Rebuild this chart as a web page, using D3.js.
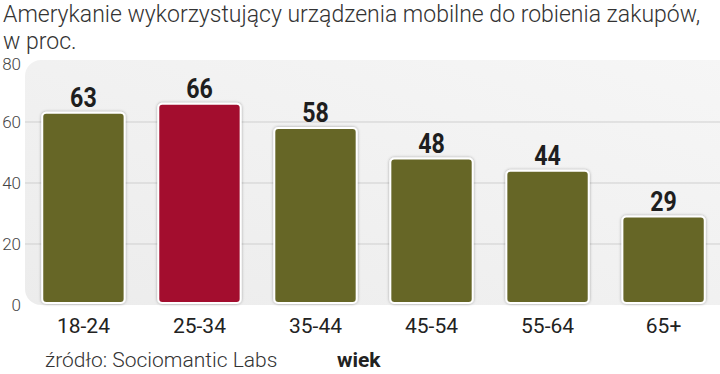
<!DOCTYPE html>
<html>
<head>
<meta charset="utf-8">
<script src="https://cdn.jsdelivr.net/npm/d3@7"></script>
<style>
  body { margin: 0; background: #fff; }
  svg { display: block; }
</style>
</head>
<body>
<svg id="chart"></svg>
<script>
const width = 720;
const height = 374;

// Data
const ageGroups = ["18-24", "25-34", "35-44", "45-54", "55-64", "65+"];
const shares = [63, 66, 58, 48, 44, 29];
const highlighted = ["25-34"];
const yTicks = [0, 20, 40, 60, 80];
const titleLines = ["Amerykanie wykorzystujący urządzenia mobilne do robienia zakupów,", "w proc."];
const sourceText = "źródło: Sociomantic Labs";
const axisName = "wiek";

const svg = d3.select("#chart")
    .attr("width", width)
    .attr("height", height);

const defs = svg.append("defs");
const shadow = defs.append("filter").attr("id", "shadow")
    .attr("x", "-10%").attr("y", "-10%").attr("width", "120%").attr("height", "120%");
shadow.append("feDropShadow")
    .attr("dx", 0).attr("dy", 0).attr("stdDeviation", 1.5)
    .attr("flood-color", "#000").attr("flood-opacity", 0.35);

// Panel fill: light grey, a bit lighter toward the top right
const grad = defs.append("linearGradient").attr("id", "panel")
    .attr("x1", 0).attr("y1", 1).attr("x2", 1).attr("y2", 0);
grad.append("stop").attr("offset", 0).attr("stop-color", "#ececec");
grad.append("stop").attr("offset", 1).attr("stop-color", "#f6f6f6");

// Scales
const x = d3.scaleBand()
    .domain(ageGroups)
    .range([26, 721])
    .paddingInner(0.29)
    .paddingOuter(0.14);

const y = d3.scaleLinear()
    .domain([0, 80])
    .range([305, 61]);

// Light panel behind the plot
svg.append("rect")
    .attr("x", 25)
    .attr("y", 60)
    .attr("width", 710)
    .attr("height", 245)
    .attr("rx", 16)
    .attr("fill", "url(#panel)");

// Grid lines
svg.append("g")
    .selectAll("line")
    .data(yTicks.filter(t => t > 0 && t < 80))
    .join("line")
    .attr("x1", 25)
    .attr("x2", width)
    .attr("y1", d => y(d))
    .attr("y2", d => y(d))
    .attr("stroke", "#cfcfcf")
    .attr("stroke-width", 1);

// Y tick labels
svg.append("g")
    .selectAll("text")
    .data(yTicks)
    .join("text")
    .attr("x", 21)
    .attr("y", d => y(d))
    .attr("dy", d => d === 80 ? "0.5em" : "0.38em")
    .attr("text-anchor", "end")
    .attr("font-family", "Roboto, sans-serif")
    .attr("font-weight", 300)
    .attr("font-size", 17)
    .attr("fill", "#444")
    .text(d => d);

// Bars
const data = ageGroups.map((g, i) => ({ group: g, value: shares[i] }));

svg.append("g")
    .selectAll("rect")
    .data(data)
    .join("rect")
    .attr("x", d => x(d.group))
    .attr("y", d => y(d.value))
    .attr("width", x.bandwidth())
    .attr("height", d => y(0) - 2 - y(d.value))
    .attr("rx", 4)
    .attr("fill", d => highlighted.includes(d.group) ? "#a30d2d" : "#666628")
    .attr("stroke", "#fff")
    .attr("stroke-width", 2)
    .attr("filter", "url(#shadow)");

// Value labels (condensed look by squeezing horizontally)
svg.append("g")
    .selectAll("text")
    .data(data)
    .join("text")
    .attr("transform", d => `translate(${x(d.group) + x.bandwidth() / 2},${y(d.value) - 6}) scale(0.86,1)`)
    .attr("text-anchor", "middle")
    .attr("font-family", "Roboto, sans-serif")
    .attr("font-weight", 700)
    .attr("font-size", 27)
    .attr("fill", "#1e1e1e")
    .text(d => d.value);

// Category labels
svg.append("g")
    .selectAll("text")
    .data(ageGroups)
    .join("text")
    .attr("x", d => x(d) + x.bandwidth() / 2)
    .attr("y", 333)
    .attr("text-anchor", "middle")
    .attr("font-family", "Roboto, sans-serif")
    .attr("font-weight", 400)
    .attr("font-size", 21)
    .attr("fill", "#222")
    .text(d => d);

// Title
svg.append("g")
    .selectAll("text")
    .data(titleLines)
    .join("text")
    .attr("x", 3)
    .attr("y", (d, i) => 22 + i * 27)
    .attr("font-family", "Roboto, sans-serif")
    .attr("font-weight", 300)
    .attr("font-size", 23)
    .attr("fill", "#333")
    .text(d => d);

// Source and axis name
svg.append("text")
    .attr("x", 45)
    .attr("y", 367)
    .attr("font-family", "Roboto, sans-serif")
    .attr("font-weight", 300)
    .attr("font-size", 21)
    .attr("fill", "#333")
    .text(sourceText);

svg.append("text")
    .attr("x", 337)
    .attr("y", 367)
    .attr("font-family", "Roboto, sans-serif")
    .attr("font-weight", 700)
    .attr("font-size", 21)
    .attr("fill", "#222")
    .text(axisName);
</script>
</body>
</html>
